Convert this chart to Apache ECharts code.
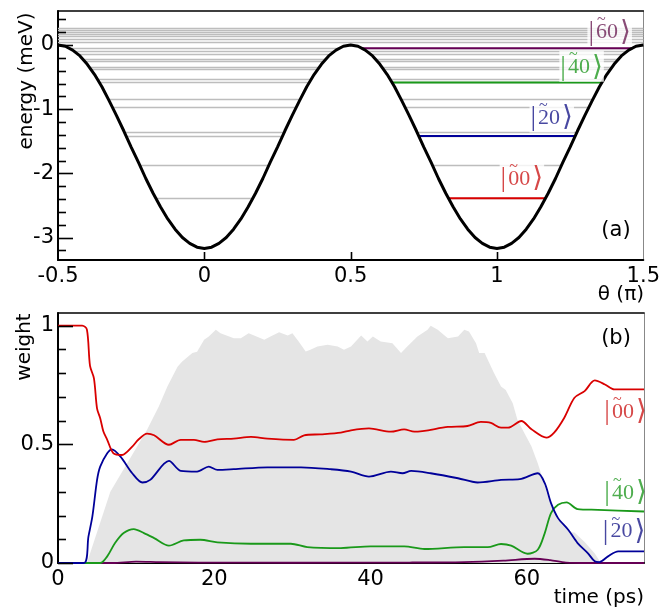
<!DOCTYPE html>
<html><head><meta charset="utf-8">
<script src="https://cdn.jsdelivr.net/npm/echarts@6/dist/echarts.min.js"></script>
<style>html,body{margin:0;padding:0;background:#fff}#c{width:663px;height:610px}</style>
</head><body><div id="c"></div>
<script>
// ---------- panel (a) data ----------
const thetaPts = [-0.5,-0.475,-0.45,-0.425,-0.4,-0.375,-0.35,-0.325,-0.3,-0.275,-0.25,-0.225,-0.2,-0.175,-0.15,-0.125,-0.1,-0.075,-0.05,-0.025,
  0,0.025,0.05,0.075,0.1,0.125,0.15,0.175,0.2,0.225,0.25,0.275,0.3,0.325,0.35,0.375,0.4,0.425,0.45,0.475,
  0.5,0.525,0.55,0.575,0.6,0.625,0.65,0.675,0.7,0.725,0.75,0.775,0.8,0.825,0.85,0.875,0.9,0.925,0.95,0.975,
  1,1.025,1.05,1.075,1.1,1.125,1.15,1.175,1.2,1.225,1.25,1.275,1.3,1.325,1.35,1.375,1.4,1.425,1.45,1.475,1.5];
const potential = [0,-0.02,-0.08,-0.17,-0.30,-0.46,-0.65,-0.87,-1.10,-1.34,-1.59,-1.83,-2.08,-2.31,-2.52,-2.71,-2.87,-3.00,-3.09,-3.15,
  -3.17,-3.15,-3.09,-3.00,-2.87,-2.71,-2.52,-2.31,-2.08,-1.83,-1.59,-1.34,-1.10,-0.87,-0.65,-0.46,-0.30,-0.17,-0.08,-0.02,
  0,-0.02,-0.08,-0.17,-0.30,-0.46,-0.65,-0.87,-1.10,-1.34,-1.59,-1.83,-2.08,-2.31,-2.52,-2.71,-2.87,-3.00,-3.09,-3.15,
  -3.17,-3.15,-3.09,-3.00,-2.87,-2.71,-2.52,-2.31,-2.08,-1.83,-1.59,-1.34,-1.10,-0.87,-0.65,-0.46,-0.30,-0.17,-0.08,-0.02,0];
const grayLevels = [0.26,0.225,0.198,0.165,0.13,0.085,0.037,-0.05,-0.10,-0.143,-0.215,-0.26,-0.34,-0.38,-0.53,-0.585,-0.85,-0.968,-1.367,-1.418,-1.869,-2.387];
const level00 = -2.387, level20 = -1.418, level40 = -0.585, level60 = -0.05;
const thetaTicks = [-0.5,0,0.5,1,1.5];
const energyMajorTicks = [-3,-2,-1,0];
const energyMinorTicks = [-3.2,-2.8,-2.6,-2.4,-2.2,-1.8,-1.6,-1.4,-1.2,-0.8,-0.6,-0.4,-0.2,0.2,0.4];

// ---------- panel (b) data ----------
const envelope = [[0,0],[3.7,0],[6.7,0.30],[10.3,0.50],[11.4,0.561],[12.9,0.659],[14.0,0.743],[15.3,0.827],[15.9,0.849],[17.2,0.884],[17.8,0.89],[18.7,0.94],[19.3,0.954],[20.2,0.982],[20.8,0.968],[22.5,0.947],[23.4,0.947],[24.4,0.968],[25.1,0.958],[26.4,0.94],[27.2,0.954],[28.3,0.972],[29.4,0.958],[30.0,0.968],[30.8,0.933],[31.7,0.891],[32.3,0.898],[33.2,0.912],[34.5,0.919],[35.8,0.912],[36.6,0.898],[37.5,0.912],[38.8,0.958],[39.6,0.933],[40.3,0.954],[41.3,0.933],[42.8,0.926],[43.9,0.884],[44.7,0.912],[46.0,0.954],[47.3,0.982],[47.7,0.999],[48.6,0.982],[49.9,0.947],[51.2,0.954],[52.0,0.982],[52.6,0.975],[53.5,0.926],[53.9,0.884],[54.6,0.884],[55.8,0.80],[56.7,0.743],[57.3,0.729],[58.2,0.673],[58.8,0.603],[59.7,0.547],[60.6,0.491],[61.4,0.42],[62.1,0.35],[62.7,0.28],[63.5,0.214],[64.0,0.186],[64.8,0.158],[65.7,0.13],[66.1,0.128],[67.4,0.088],[68.7,0.04],[69.3,0.01],[69.6,0],[75,0]];
const weight00 = [[0,1.0],[3.1,1.0],[3.7,0.983],[4.1,0.83],[4.6,0.778],[5.0,0.65],[5.4,0.61],[5.8,0.555],[6.3,0.519],[7.1,0.462],[8.2,0.455],[9.5,0.49],[10.3,0.52],[11.4,0.545],[12.3,0.538],[14.2,0.498],[15.7,0.519],[17.4,0.519],[18.7,0.51],[20.4,0.521],[22.5,0.524],[24.7,0.531],[26.8,0.524],[30.2,0.519],[31.5,0.538],[33.6,0.542],[36.2,0.549],[37.5,0.559],[39.8,0.567],[42.6,0.553],[44.3,0.563],[45.6,0.553],[49.9,0.573],[52.4,0.577],[54.1,0.594],[55.4,0.59],[56.7,0.57],[57.6,0.57],[59.3,0.598],[60.6,0.563],[62.5,0.528],[63.5,0.549],[64.8,0.612],[66.1,0.696],[67.4,0.724],[68.7,0.769],[70.0,0.752],[71.2,0.731],[75,0.731]];
const weight20 = [[0,0],[3.3,0],[3.9,0.112],[4.4,0.196],[5.0,0.35],[5.4,0.406],[6.3,0.462],[6.9,0.479],[8.0,0.448],[9.5,0.378],[10.8,0.339],[11.8,0.35],[14.2,0.43],[15.7,0.388],[17.8,0.385],[19.3,0.406],[20.4,0.392],[22.5,0.395],[26.8,0.403],[31.1,0.403],[34.9,0.395],[37.5,0.385],[39.8,0.364],[42.6,0.385],[44.1,0.378],[45.2,0.388],[47.7,0.378],[51.2,0.357],[53.7,0.339],[56.7,0.35],[59.1,0.353],[61.4,0.378],[62.3,0.336],[63.1,0.252],[64.0,0.189],[65.3,0.14],[66.5,0.084],[67.8,0.042],[68.7,0.007],[69.3,0.004],[70.4,0.028],[71.7,0.049],[75,0.049]];
const weight40 = [[0,0],[5.4,0],[6.3,0.028],[7.3,0.084],[8.4,0.126],[9.7,0.143],[11.0,0.126],[12.3,0.105],[14.2,0.073],[16.1,0.095],[18.2,0.098],[20.4,0.087],[24.7,0.081],[29.8,0.081],[31.9,0.067],[36.2,0.063],[40.0,0.07],[44.3,0.07],[46.9,0.059],[52.0,0.067],[55.0,0.067],[56.7,0.08],[58.0,0.073],[60.1,0.039],[61.4,0.056],[62.3,0.126],[63.1,0.21],[64.0,0.245],[65.1,0.255],[66.5,0.227],[69.1,0.224],[75,0.217]];
const weight60 = [[0,0],[7,0],[10,0.006],[13,0.004],[18,0.002],[30,0.001],[45,0.002],[52,0.004],[57,0.01],[61,0.018],[63,0.012],[65,0.002],[68,0],[75,0]];
const timeTicks = [0,20,40,60];
const weightMajorTicks = [0,0.5,1];
const weightMinorTicks = [0.1,0.2,0.3,0.4,0.6,0.7,0.8,0.9];

// ---------- helpers ----------
function crossings(E) {
  const out = [];
  for (let i = 0; i < thetaPts.length - 1; i++) {
    const a = potential[i] - E, b = potential[i + 1] - E;
    if ((a > 0 && b <= 0) || (a <= 0 && b > 0)) {
      const t = a / (a - b);
      out.push(thetaPts[i] + t * (thetaPts[i + 1] - thetaPts[i]));
    }
  }
  return out;
}
const grayLines = [];
grayLevels.forEach(E => {
  if (E >= 0) { grayLines.push({coords: [[thetaTicks[0], E], [thetaTicks[4], E]]}); return; }
  const c = crossings(E);
  for (let k = 0; k + 1 < c.length; k += 2) grayLines.push({coords: [[c[k], E], [c[k + 1], E]]});
});
function rightWell(E) { const c = crossings(E); return [[c[2], E], [c[3], E]]; }

const SANS = '"DejaVu Sans", "Liberation Sans", sans-serif';
const SERIF = '"Liberation Serif", "DejaVu Serif", serif';
const RED = '#d90000', BLUE = '#000099', GREEN = '#1a991a', PURPLE = '#660055';

// ket label |ñ0> built as rich text: a tilde line above the first digit
function ketLabel(d, color, bg) {
  return {
    show: true, position: 'inside', align: 'left', verticalAlign: 'middle',
    formatter: '{g||}{t|~}\n{b||}{d|' + d + '0}{b|\u27E9}',
    backgroundColor: bg ? '#fff' : 'transparent', padding: [3, 1, 4, 1],
    rich: {
      g: {fontSize: 28, fontFamily: SERIF, color: 'transparent', lineHeight: 3, padding: [0, 3, 0, 0]},
      t: {fontSize: 16, fontFamily: SERIF, color: color, lineHeight: 3},
      b: {fontSize: 28, fontFamily: SERIF, color: color, lineHeight: 21},
      d: {fontSize: 22, fontFamily: SERIF, color: color, lineHeight: 21, padding: [0, 2, 0, 2]}
    }
  };
}
function labelSeries(xi, yi, pos, d, color, bg) {
  return {
    type: 'scatter', xAxisIndex: xi, yAxisIndex: yi, data: [pos], symbolSize: 1,
    itemStyle: {color: 'transparent'}, z: 10, silent: true, label: ketLabel(d, color, bg)
  };
}
function lineSeries(xi, yi, data, color, width, smooth, z) {
  return {type: 'line', xAxisIndex: xi, yAxisIndex: yi, data: data, symbol: 'none', smooth: smooth,
    lineStyle: {color: color, width: width}, z: z, silent: true};
}
const tickLabel = {color: '#000', fontSize: 21, fontFamily: SANS};

const chart = echarts.init(document.getElementById('c'), null, {renderer: 'canvas'});
chart.setOption({
  animation: false,
  backgroundColor: '#fff',
  grid: [
    {left: 58, right: 19, top: 11, height: 249},
    {left: 58, right: 19, top: 313, height: 250}
  ],
  xAxis: [
    {gridIndex: 0, type: 'value', position: 'bottom', min: -0.5, max: 1.5, interval: 0.5,
      axisLine: {onZero: false, lineStyle: {color: '#000', width: 2}}, axisTick: {show: false},
      axisLabel: Object.assign({margin: 6, customValues: thetaTicks}, tickLabel), splitLine: {show: false}},
    {gridIndex: 0, type: 'value', position: 'top', min: -0.5, max: 1.5,
      axisLine: {onZero: false, lineStyle: {color: '#000', width: 1.5}}, axisTick: {show: false}, axisLabel: {show: false}, splitLine: {show: false}},
    {gridIndex: 1, type: 'value', position: 'bottom', min: 0, max: 75,
      axisLine: {onZero: false, lineStyle: {color: '#000', width: 2}}, axisTick: {show: false},
      axisLabel: Object.assign({margin: 6, customValues: timeTicks}, tickLabel), splitLine: {show: false}},
    {gridIndex: 1, type: 'value', position: 'top', min: 0, max: 75,
      axisLine: {onZero: false, lineStyle: {color: '#000', width: 1.5}}, axisTick: {show: false}, axisLabel: {show: false}, splitLine: {show: false}}
  ],
  yAxis: [
    {gridIndex: 0, type: 'value', position: 'left', min: -3.35, max: 0.53,
      axisLine: {onZero: false, lineStyle: {color: '#000', width: 2}}, axisTick: {show: false},
      axisLabel: Object.assign({margin: 4, customValues: energyMajorTicks}, tickLabel), splitLine: {show: false}},
    {gridIndex: 0, type: 'value', position: 'right', min: -3.35, max: 0.53,
      axisLine: {show: true, onZero: false, lineStyle: {color: '#888', width: 1}}, axisTick: {show: false}, axisLabel: {show: false}, splitLine: {show: false}},
    {gridIndex: 1, type: 'value', position: 'left', min: 0, max: 1.053,
      axisLine: {onZero: false, lineStyle: {color: '#000', width: 2}}, axisTick: {show: false},
      axisLabel: Object.assign({margin: 4, customValues: weightMajorTicks}, tickLabel), splitLine: {show: false}},
    {gridIndex: 1, type: 'value', position: 'right', min: 0, max: 1.053,
      axisLine: {show: true, onZero: false, lineStyle: {color: '#888', width: 1}}, axisTick: {show: false}, axisLabel: {show: false}, splitLine: {show: false}}
  ],
  series: [
    {type: 'lines', coordinateSystem: 'cartesian2d', xAxisIndex: 0, yAxisIndex: 0, data: grayLines,
      lineStyle: {color: '#bdbdbd', width: 1.3, opacity: 1, curveness: 0}, z: 1, silent: true},
    lineSeries(0, 0, rightWell(level60), PURPLE, 2, false, 2),
    lineSeries(0, 0, rightWell(level40), GREEN, 2, false, 2),
    lineSeries(0, 0, rightWell(level20), BLUE, 2, false, 2),
    lineSeries(0, 0, rightWell(level00), RED, 2, false, 2),
    lineSeries(0, 0, thetaPts.map((t, i) => [t, potential[i]]), '#000', 3, false, 5),
    labelSeries(0, 0, [1.309, 0.215], '6', '#6b1f55', true),
    labelSeries(0, 0, [1.213, -0.33], '4', '#229922', true),
    labelSeries(0, 0, [1.111, -1.123], '2', '#1a1a8a', true),
    labelSeries(0, 0, [1.009, -2.07], '0', '#cc1a1a', true),

    {type: 'line', xAxisIndex: 2, yAxisIndex: 2, data: envelope, symbol: 'none',
      lineStyle: {width: 0, color: '#e5e5e5'}, areaStyle: {color: '#e5e5e5', opacity: 1}, z: 1, silent: true},
    lineSeries(2, 2, weight60, PURPLE, 1.8, 0.3, 3),
    lineSeries(2, 2, weight40, GREEN, 1.8, 0.3, 3),
    lineSeries(2, 2, weight20, BLUE, 1.8, 0.3, 3),
    lineSeries(2, 2, weight00, RED, 1.8, 0.3, 3),
    labelSeries(2, 2, [69.8, 0.641], '0', '#cc1a1a', false),
    labelSeries(2, 2, [69.8, 0.30], '4', '#229922', false),
    labelSeries(2, 2, [69.6, 0.136], '2', '#1a1a8a', false)
  ]
});

// inward tick marks, placed through the axes' own scales
const graphics = [
  {type: 'text', x: 27, y: 81, rotation: Math.PI / 2,
    style: {text: 'energy (meV)', font: '20px ' + SANS, textAlign: 'center', textVerticalAlign: 'middle', fill: '#000'}},
  {type: 'text', x: 25, y: 347, rotation: Math.PI / 2,
    style: {text: 'weight', font: '20px ' + SANS, textAlign: 'center', textVerticalAlign: 'middle', fill: '#000'}},
  {type: 'text', x: 644, y: 295,
    style: {text: '\u03B8 (\u03C0)', font: '20px ' + SANS, textAlign: 'right', textVerticalAlign: 'middle', fill: '#000'}},
  {type: 'text', x: 644, y: 598,
    style: {text: 'time (ps)', font: '20px ' + SANS, textAlign: 'right', textVerticalAlign: 'middle', fill: '#000'}},
  {type: 'text', x: 616, y: 231,
    style: {text: '(a)', font: '21px ' + SANS, textAlign: 'center', textVerticalAlign: 'middle', fill: '#000'}},
  {type: 'text', x: 616, y: 339,
    style: {text: '(b)', font: '21px ' + SANS, textAlign: 'center', textVerticalAlign: 'middle', fill: '#000'}}
];
function tick(x1, y1, x2, y2) {
  graphics.push({type: 'line', z: 50, silent: true,
    shape: {x1: x1, y1: y1, x2: x2, y2: y2}, style: {stroke: '#000', lineWidth: 1.6}});
}
function yTicks(xi, yi, xEdge, values, len) {
  values.forEach(v => {
    const p = chart.convertToPixel({xAxisIndex: xi, yAxisIndex: yi}, [xEdge, v]);
    const y = Math.round(p[1]) + 0.5;
    tick(p[0], y, p[0] + len, y);
  });
}
function xTicks(xi, yi, yEdge, values, len) {
  values.forEach(v => {
    const p = chart.convertToPixel({xAxisIndex: xi, yAxisIndex: yi}, [v, yEdge]);
    const x = Math.round(p[0]) + 0.5;
    tick(x, p[1], x, p[1] - len);
  });
}
yTicks(0, 0, -0.5, energyMajorTicks, 15);
yTicks(0, 0, -0.5, energyMinorTicks, 8);
xTicks(0, 0, -3.35, thetaTicks.slice(1, 4), 8);
yTicks(2, 2, 0, weightMajorTicks, 15);
yTicks(2, 2, 0, weightMinorTicks, 8);
chart.setOption({graphic: graphics});
</script></body></html>
